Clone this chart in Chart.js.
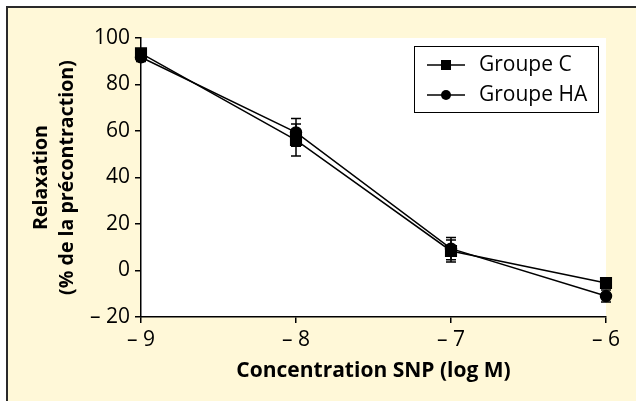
<!DOCTYPE html>
<html>
<head>
<meta charset="utf-8">
<script src="https://cdn.jsdelivr.net/npm/chart.js@4/dist/chart.umd.min.js"></script>
<style>
  html, body { margin: 0; padding: 0; background: #ffffff; }
  #frame { position: absolute; left: 6px; top: 6px; width: 640px; height: 410px;
           background: #FFF8D8; border-left: 2px solid #2a2a2a; border-top: 2px solid #2a2a2a; }
  #wrap { position: absolute; left: 0; top: 0; width: 636px; height: 401px; }
</style>
</head>
<body>
<div id="frame"></div>
<div id="wrap"><canvas id="c" width="636" height="401"></canvas></div>
<script>
// ---- data ----
const concentrations = [-9, -8, -7, -6];
const groupeC = [93.4, 56.1, 8.4, -5.4];
const groupeCErr = [1.5, 6.9, 4.7, 1.5];
const groupeHA = [91.7, 59.4, 9.4, -11.0];
const groupeHAErr = [1.8, 6.0, 4.8, 2.6];
const seriesLabels = ['Groupe C', 'Groupe HA'];
const xTickLabels = {'-9': '\u2013 9', '-8': '\u2013 8', '-7': '\u2013 7', '-6': '\u2013 6'};
const yTickLabels = {'100': '100', '80': '80', '60': '60', '40': '40', '20': '20', '0': '0', '-20': '\u2013 20'};

const FONT = "'Open Sans', sans-serif";

const toPoints = (vals) => concentrations.map((x, i) => ({x: x, y: vals[i]}));

const whiteArea = {
  id: 'whiteArea',
  beforeDraw(chart) {
    const {ctx, chartArea: a} = chart;
    ctx.save();
    ctx.fillStyle = '#ffffff';
    ctx.fillRect(a.left, a.top, a.right - a.left, a.bottom - a.top);
    ctx.restore();
  }
};

const errorBars = {
  id: 'errorBars',
  afterDatasetsDraw(chart) {
    const {ctx} = chart;
    const xs = chart.scales.x, ys = chart.scales.y;
    ctx.save();
    ctx.strokeStyle = '#000';
    ctx.lineWidth = 1.5;
    chart.data.datasets.forEach(ds => {
      ds.data.forEach((p, i) => {
        const e = ds.errors[i];
        const px = xs.getPixelForValue(p.x);
        const yTop = ys.getPixelForValue(p.y + e);
        const yBot = ys.getPixelForValue(p.y - e);
        const cw = 5;
        ctx.beginPath();
        ctx.moveTo(px, yTop); ctx.lineTo(px, yBot);
        ctx.moveTo(px - cw, yTop); ctx.lineTo(px + cw, yTop);
        ctx.moveTo(px - cw, yBot); ctx.lineTo(px + cw, yBot);
        ctx.stroke();
      });
    });
    ctx.restore();
  }
};

const boxLegend = {
  id: 'boxLegend',
  afterDraw(chart) {
    const {ctx} = chart;
    const bx = 414, by = 46, bw = 184, bh = 66;
    ctx.save();
    ctx.fillStyle = '#fff';
    ctx.fillRect(bx, by, bw, bh);
    ctx.strokeStyle = '#000';
    ctx.lineWidth = 1;
    ctx.strokeRect(bx + 0.5, by + 0.5, bw, bh);
    chart.data.datasets.forEach((ds, i) => {
      const cy = by + 19 + i * 30;
      ctx.strokeStyle = '#000';
      ctx.lineWidth = 1.5;
      ctx.beginPath();
      ctx.moveTo(427, cy); ctx.lineTo(465, cy);
      ctx.stroke();
      ctx.fillStyle = '#000';
      if (ds.pointStyle === 'rect') {
        ctx.fillRect(446 - 5, cy - 5, 10, 10);
      } else {
        ctx.beginPath(); ctx.arc(446, cy, 5, 0, Math.PI * 2); ctx.fill();
      }
      ctx.font = '21px ' + FONT;
      ctx.textBaseline = 'middle';
      ctx.textAlign = 'left';
      ctx.fillText(ds.label, 479, cy);
    });
    ctx.restore();
  }
};

new Chart(document.getElementById('c'), {
  type: 'line',
  data: {
    datasets: [
      { label: seriesLabels[0], data: toPoints(groupeC), errors: groupeCErr,
        borderColor: '#000', backgroundColor: '#000', borderWidth: 1.5,
        pointStyle: 'rect', pointRadius: 7.5, pointHoverRadius: 7.5, tension: 0, clip: false },
      { label: seriesLabels[1], data: toPoints(groupeHA), errors: groupeHAErr,
        borderColor: '#000', backgroundColor: '#000', borderWidth: 1.5,
        pointStyle: 'circle', pointRadius: 5.5, pointHoverRadius: 5.5, tension: 0, clip: false }
    ]
  },
  options: {
    responsive: false,
    animation: false,
    events: [],
    layout: { padding: { top: 38, right: 30, left: 0, bottom: 0 } },
    plugins: { legend: { display: false }, tooltip: { enabled: false } },
    scales: {
      x: {
        type: 'linear', min: -9, max: -6,
        afterFit(s) { s.height = 84; },
        grid: { display: true, drawOnChartArea: false, drawTicks: true, tickLength: 6, color: '#000', lineWidth: 1.5 },
        border: { display: true, color: '#000', width: 1.5 },
        ticks: { stepSize: 1, color: '#000', padding: 4, font: { family: FONT, size: 21 },
                 maxRotation: 0, callback: v => xTickLabels[String(v)] ?? '' },
        title: { display: true, text: 'Concentration SNP (log M)', color: '#000',
                 font: { family: FONT, size: 21, weight: 'bold', lineHeight: 1.2 },
                 padding: { top: 0, bottom: 17 } }
      },
      y: {
        type: 'linear', min: -20, max: 100,
        afterFit(s) { s.width = 141; },
        grid: { display: true, drawOnChartArea: false, drawTicks: true, tickLength: 6, color: '#000', lineWidth: 1.5 },
        border: { display: true, color: '#000', width: 1.5 },
        ticks: { stepSize: 20, color: '#000', padding: 5, font: { family: FONT, size: 21 },
                 callback: v => yTickLabels[String(v)] ?? '' },
        title: { display: true, text: ['Relaxation', '(% de la précontraction)'], color: '#000',
                 font: { family: FONT, size: 19.6, weight: 'bold', lineHeight: 1.33 },
                 padding: { top: 28, bottom: 0 } }
      }
    }
  },
  plugins: [whiteArea, errorBars, boxLegend]
});
</script>
</body>
</html>
